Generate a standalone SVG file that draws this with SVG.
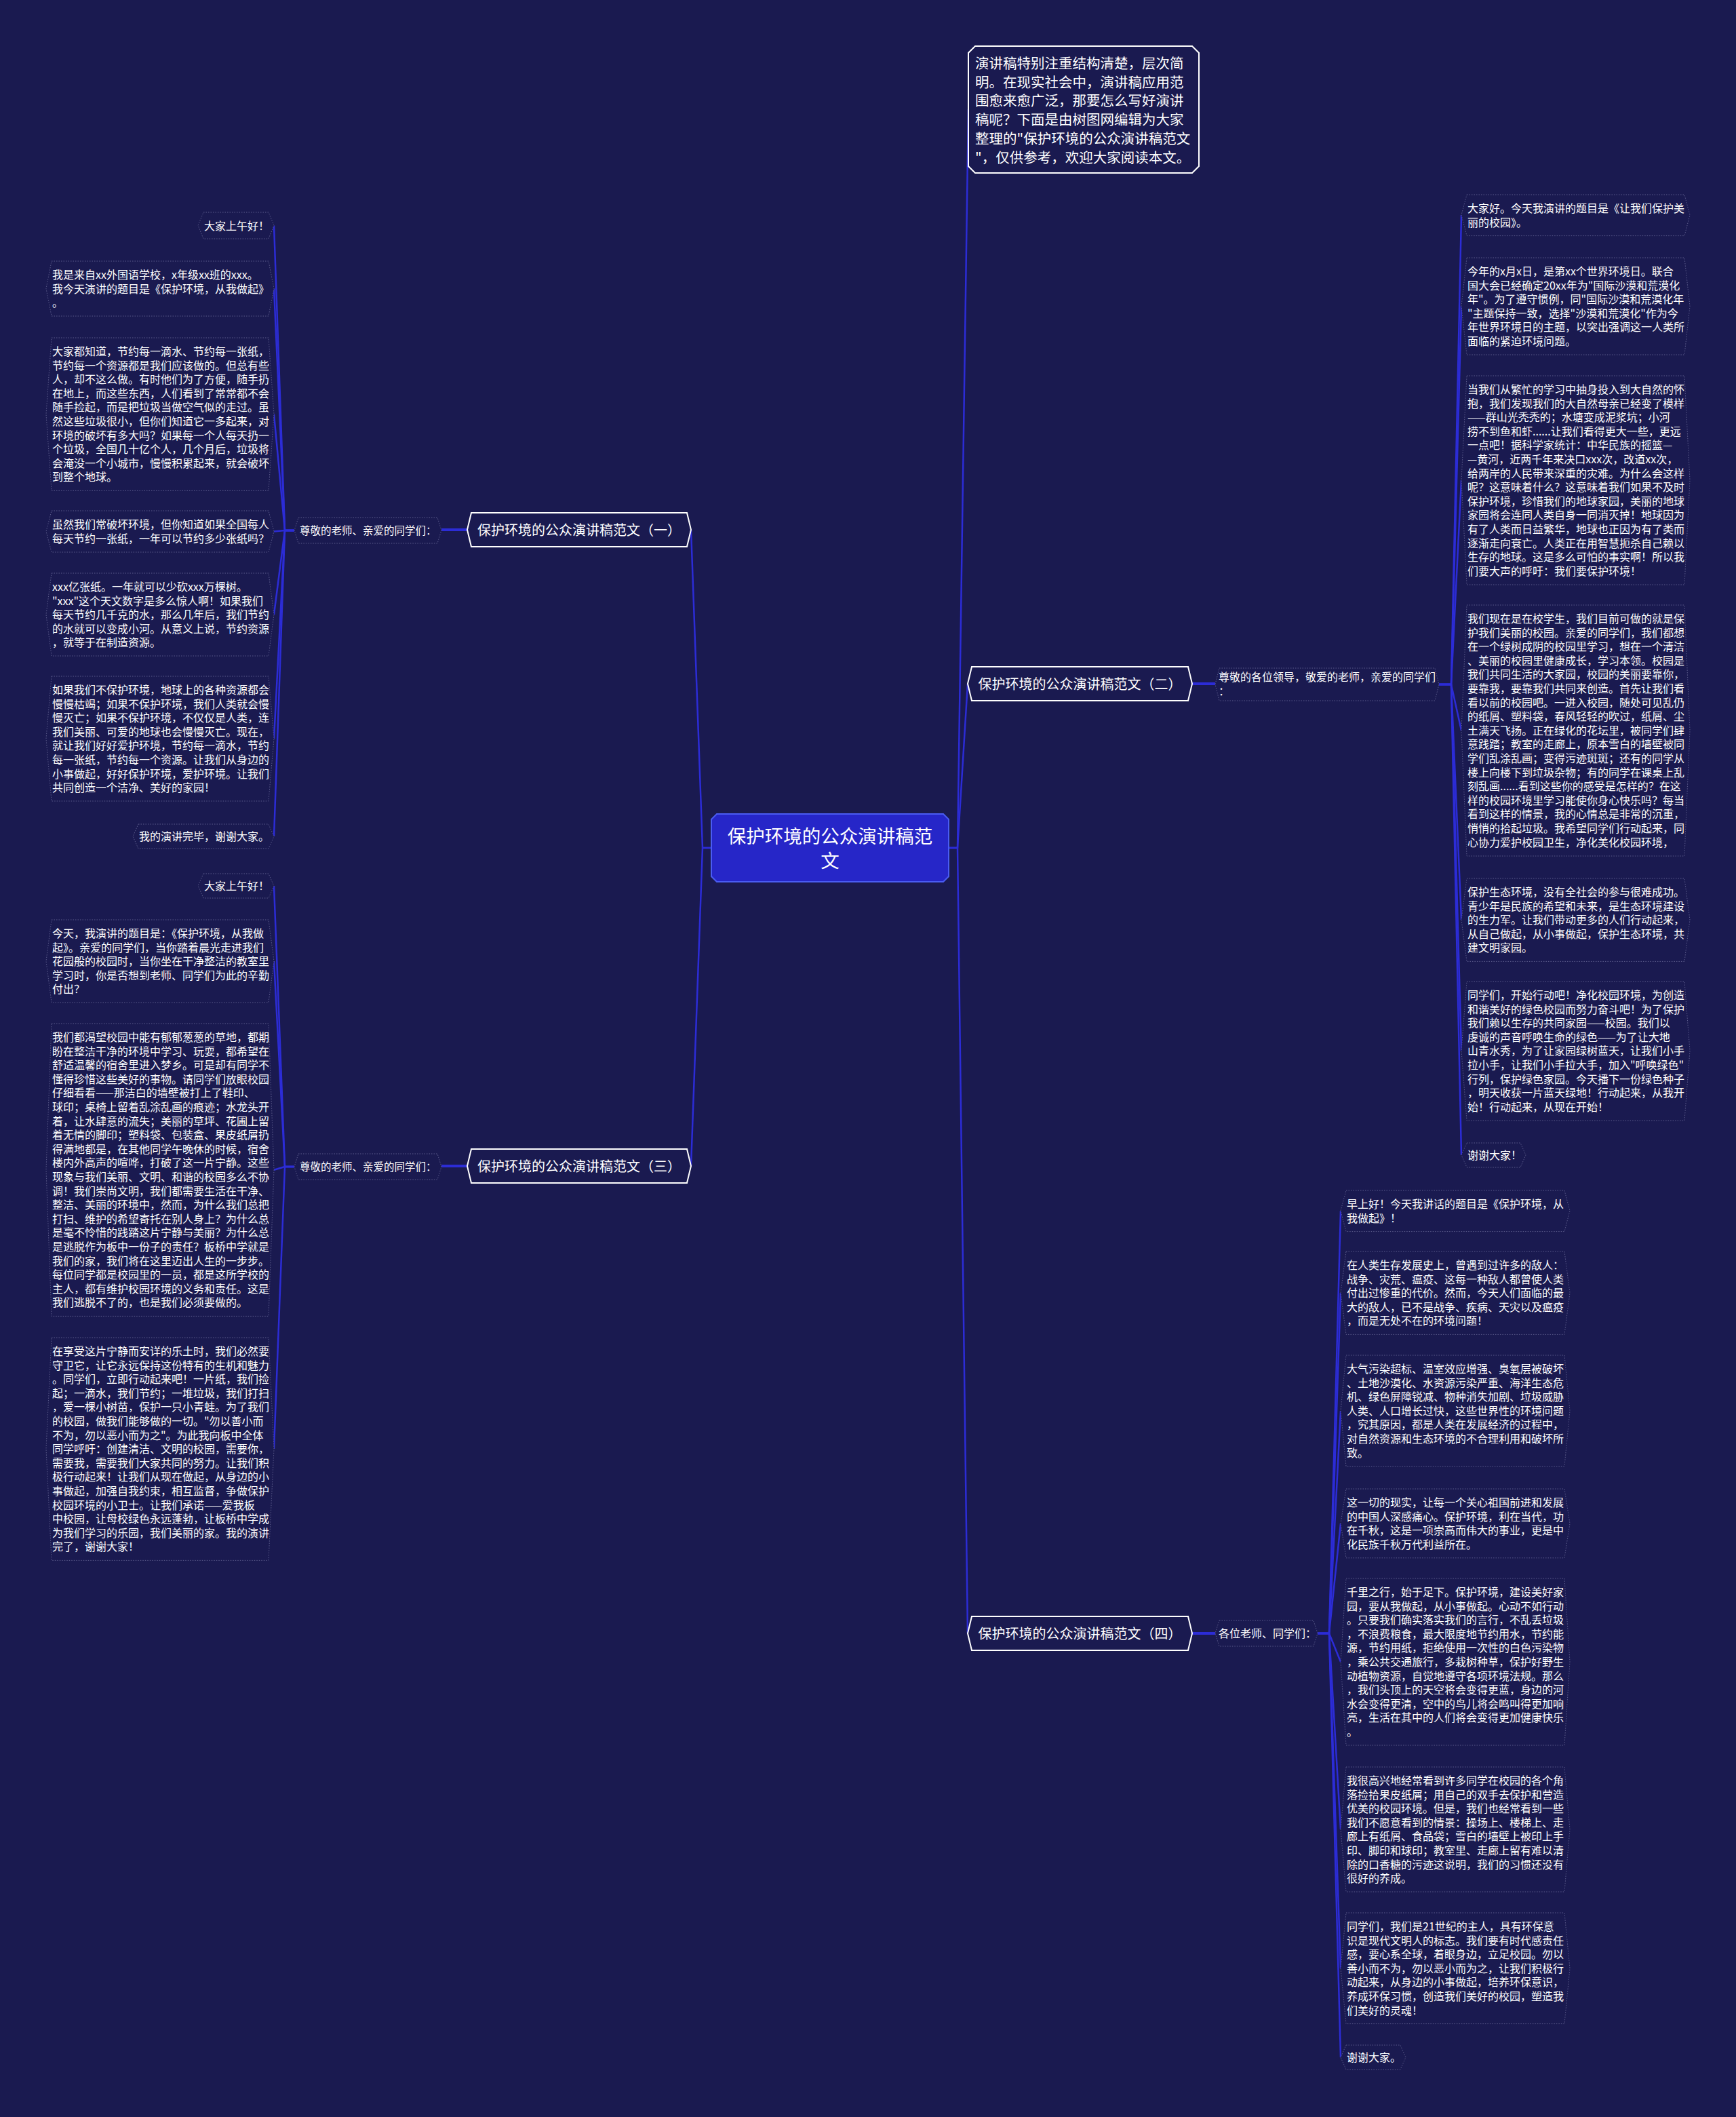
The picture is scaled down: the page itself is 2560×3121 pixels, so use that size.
<svg xmlns="http://www.w3.org/2000/svg" width="2560" height="3121" viewBox="0 0 2560 3121">
<style>
.bg{fill:#1a1a50}
.ln{fill:none;stroke:#2c2cd6;stroke-width:2.5;stroke-linejoin:round}
.stub{fill:none;stroke:#2c2cd6;stroke-width:4}
.leaf{fill:#1a1a50;stroke:#5a5a8a;stroke-width:1;stroke-dasharray:1.5 2}
.br{fill:#1a1a50;stroke:#ffffff;stroke-width:2}
.ctr{fill:#2626c8;stroke:#4a5cf2;stroke-width:2}
.t{font-family:"Noto Sans CJK SC","Noto Sans",sans-serif;fill:#ffffff}
.s{font-size:16px}
.lb{font-size:15.5px}
.bt{font-size:20px}
.it{font-size:20.5px}
.ct{font-size:27.5px}
</style>
<rect class="bg" x="0" y="0" width="2560" height="3121"/>
<g id="connectors">
<path class="ln" d="M1049,1250 H1036 L1019,781"/>
<path class="ln" d="M1049,1250 H1036 L1019,1719"/>
<path class="ln" d="M1399,1250 H1412 L1428,161"/>
<path class="ln" d="M1399,1250 H1412 L1427,1008"/>
<path class="ln" d="M1399,1250 H1412 L1427,2408"/>
<path class="stub" d="M689,781 H651"/>
<path class="stub" d="M689,1719 H651"/>
<path class="stub" d="M1758,1008 H1792"/>
<path class="stub" d="M1758,2408 H1792"/>
<path class="ln" d="M434,782 H420 L404,332.5"/>
<path class="ln" d="M434,782 H420 L404,425.5"/>
<path class="ln" d="M434,782 H420 L404,610.7"/>
<path class="ln" d="M434,782 H420 L404,783.5"/>
<path class="ln" d="M434,782 H420 L404,906"/>
<path class="ln" d="M434,782 H420 L404,1089"/>
<path class="ln" d="M434,782 H420 L404,1233"/>
<path class="ln" d="M434,1720 H420 L404,1306"/>
<path class="ln" d="M434,1720 H420 L404,1417"/>
<path class="ln" d="M434,1720 H420 L404,1724.7"/>
<path class="ln" d="M434,1720 H420 L404,2136"/>
<path class="ln" d="M2122,1009 H2140 L2155,317"/>
<path class="ln" d="M2122,1009 H2140 L2155,451.5"/>
<path class="ln" d="M2122,1009 H2140 L2155,708"/>
<path class="ln" d="M2122,1009 H2140 L2155,1077"/>
<path class="ln" d="M2122,1009 H2140 L2155,1356"/>
<path class="ln" d="M2122,1009 H2140 L2155,1549"/>
<path class="ln" d="M2122,1009 H2140 L2155,1703"/>
<path class="ln" d="M1943,2408 H1960 L1977,1785"/>
<path class="ln" d="M1943,2408 H1960 L1977,1906"/>
<path class="ln" d="M1943,2408 H1960 L1977,2080"/>
<path class="ln" d="M1943,2408 H1960 L1977,2246"/>
<path class="ln" d="M1943,2408 H1960 L1977,2450"/>
<path class="ln" d="M1943,2408 H1960 L1977,2697"/>
<path class="ln" d="M1943,2408 H1960 L1977,2902"/>
<path class="ln" d="M1943,2408 H1960 L1977,3033"/>
</g>

<g id="center">
<path class="ctr" d="M1057,1200 H1391 L1399,1208 V1292 L1391,1300 H1057 L1049,1292 V1208 Z"/>
<text class="t ct" text-anchor="middle"><tspan x="1224" y="1242.5">保护环境的公众演讲稿范</tspan><tspan x="1224" y="1278.5">文</tspan></text>
</g>

<g id="intro">
<path class="br" stroke-width="1.5" d="M1438,68 H1758 L1768,78 V245 L1758,255 H1438 L1428,245 V78 Z"/>
<text class="t it"><tspan x="1438" y="101">演讲稿特别注重结构清楚，层次简</tspan><tspan x="1438" y="128.7">明。在现实社会中，演讲稿应用范</tspan><tspan x="1438" y="156.4">围愈来愈广泛，那要怎么写好演讲</tspan><tspan x="1438" y="184.1">稿呢？下面是由树图网编辑为大家</tspan><tspan x="1438" y="211.8">整理的"保护环境的公众演讲稿范文</tspan><tspan x="1438" y="239.5">"，仅供参考，欢迎大家阅读本文。</tspan></text>
</g>

<g id="branch1">
<path class="br" d="M695,756 H1013 L1019,781 L1013,806 H695 L689,781 Z"/>
<text class="t bt" x="854" y="788.6" text-anchor="middle">保护环境的公众演讲稿范文（一）</text>
</g>
<g id="branch2">
<path class="br" d="M1433,983 H1752 L1758,1008 L1752,1033 H1433 L1427,1008 Z"/>
<text class="t bt" x="1592.5" y="1015.6" text-anchor="middle">保护环境的公众演讲稿范文（二）</text>
</g>
<g id="branch3">
<path class="br" d="M695,1694 H1013 L1019,1719 L1013,1744 H695 L689,1719 Z"/>
<text class="t bt" x="854" y="1726.6" text-anchor="middle">保护环境的公众演讲稿范文（三）</text>
</g>
<g id="branch4">
<path class="br" d="M1433,2383 H1752 L1758,2408 L1752,2433 H1433 L1427,2408 Z"/>
<text class="t bt" x="1592.5" y="2415.6" text-anchor="middle">保护环境的公众演讲稿范文（四）</text>
</g>

<g id="label1">
<path class="leaf" d="M440,763 H645 L651,782 L645,801 H440 L434,782 Z"/>
<text class="t lb" x="442" y="788">尊敬的老师、亲爱的同学们：</text>
</g>
<g id="label3">
<path class="leaf" d="M440,1701 H645 L651,1720 L645,1739 H440 L434,1720 Z"/>
<text class="t lb" x="442" y="1726">尊敬的老师、亲爱的同学们：</text>
</g>
<g id="label2">
<path class="leaf" d="M1798,985 H2116 L2122,1009 L2116,1033 H1798 L1792,1009 Z"/>
<text class="t s"><tspan x="1797" y="1004">尊敬的各位领导，敬爱的老师，亲爱的同学们</tspan><tspan x="1797" y="1025">：</tspan></text>
</g>
<g id="label4">
<path class="leaf" d="M1798,2389 H1937 L1943,2408 L1937,2427 H1798 L1792,2408 Z"/>
<text class="t s" x="1797" y="2414">各位老师、同学们：</text>
</g>

<g id="a1">
<path class="leaf" d="M300,313 H396 L404,332.5 L396,352 H300 L292,332.5 Z"/>
<text class="t s" x="301" y="339">大家上午好！</text>
</g>
<g id="a2">
<path class="leaf" d="M76,385 H396 L404,425.5 L396,466 H76 L68,425.5 Z"/>
<text class="t s"><tspan x="77" y="411">我是来自xx外国语学校，x年级xx班的xxx。</tspan><tspan x="77" dy="20.6">我今天演讲的题目是《保护环境，从我做起》</tspan><tspan x="77" dy="20.6">。</tspan></text>
</g>
<g id="a3">
<path class="leaf" d="M76,498 H396 L404,610.7 L396,723.4 H76 L68,610.7 Z"/>
<text class="t s"><tspan x="77" y="524">大家都知道，节约每一滴水、节约每一张纸，</tspan><tspan x="77" dy="20.6">节约每一个资源都是我们应该做的。但总有些</tspan><tspan x="77" dy="20.6">人，却不这么做。有时他们为了方便，随手扔</tspan><tspan x="77" dy="20.6">在地上，而这些东西，人们看到了常常都不会</tspan><tspan x="77" dy="20.6">随手捡起，而是把垃圾当做空气似的走过。虽</tspan><tspan x="77" dy="20.6">然这些垃圾很小，但你们知道它一多起来，对</tspan><tspan x="77" dy="20.6">环境的破坏有多大吗？如果每一个人每天扔一</tspan><tspan x="77" dy="20.6">个垃圾，全国几十亿个人，几个月后，垃圾将</tspan><tspan x="77" dy="20.6">会淹没一个小城市，慢慢积累起来，就会破坏</tspan><tspan x="77" dy="20.6">到整个地球。</tspan></text>
</g>
<g id="a4">
<path class="leaf" d="M76,753 H396 L404,783.5 L396,814 H76 L68,783.5 Z"/>
<text class="t s"><tspan x="77" y="779">虽然我们常破坏环境，但你知道如果全国每人</tspan><tspan x="77" dy="20.6">每天节约一张纸，一年可以节约多少张纸吗？</tspan></text>
</g>
<g id="a5">
<path class="leaf" d="M76,845 H396 L404,906 L396,967 H76 L68,906 Z"/>
<text class="t s"><tspan x="77" y="871">xxx亿张纸。一年就可以少砍xxx万棵树。</tspan><tspan x="77" dy="20.6">"xxx"这个天文数字是多么惊人啊！如果我们</tspan><tspan x="77" dy="20.6">每天节约几千克的水，那么几年后，我们节约</tspan><tspan x="77" dy="20.6">的水就可以变成小河。从意义上说，节约资源</tspan><tspan x="77" dy="20.6">，就等于在制造资源。</tspan></text>
</g>
<g id="a6">
<path class="leaf" d="M76,997 H396 L404,1089 L396,1181 H76 L68,1089 Z"/>
<text class="t s"><tspan x="77" y="1023">如果我们不保护环境，地球上的各种资源都会</tspan><tspan x="77" dy="20.6">慢慢枯竭；如果不保护环境，我们人类就会慢</tspan><tspan x="77" dy="20.6">慢灭亡；如果不保护环境，不仅仅是人类，连</tspan><tspan x="77" dy="20.6">我们美丽、可爱的地球也会慢慢灭亡。现在，</tspan><tspan x="77" dy="20.6">就让我们好好爱护环境，节约每一滴水，节约</tspan><tspan x="77" dy="20.6">每一张纸，节约每一个资源。让我们从身边的</tspan><tspan x="77" dy="20.6">小事做起，好好保护环境，爱护环境。让我们</tspan><tspan x="77" dy="20.6">共同创造一个洁净、美好的家园！</tspan></text>
</g>
<g id="a7">
<path class="leaf" d="M204,1215 H396 L404,1233 L396,1251 H204 L196,1233 Z"/>
<text class="t s" x="205" y="1239">我的演讲完毕，谢谢大家。</text>
</g>

<g id="b1">
<path class="leaf" d="M300,1288 H396 L404,1306 L396,1324 H300 L292,1306 Z"/>
<text class="t s" x="301" y="1312">大家上午好！</text>
</g>
<g id="b2">
<path class="leaf" d="M76,1356 H396 L404,1417 L396,1478 H76 L68,1417 Z"/>
<text class="t s"><tspan x="77" y="1382">今天，我演讲的题目是：《保护环境，从我做</tspan><tspan x="77" dy="20.6">起》。亲爱的同学们，当你踏着晨光走进我们</tspan><tspan x="77" dy="20.6">花园般的校园时，当你坐在干净整洁的教室里</tspan><tspan x="77" dy="20.6">学习时，你是否想到老师、同学们为此的辛勤</tspan><tspan x="77" dy="20.6">付出？</tspan></text>
</g>
<g id="b3">
<path class="leaf" d="M76,1509 H396 L404,1724.7 L396,1940.4 H76 L68,1724.7 Z"/>
<text class="t s"><tspan x="77" y="1535">我们都渴望校园中能有郁郁葱葱的草地，都期</tspan><tspan x="77" dy="20.6">盼在整洁干净的环境中学习、玩耍，都希望在</tspan><tspan x="77" dy="20.6">舒适温馨的宿舍里进入梦乡。可是却有同学不</tspan><tspan x="77" dy="20.6">懂得珍惜这些美好的事物。请同学们放眼校园</tspan><tspan x="77" dy="20.6">仔细看看——那洁白的墙壁被打上了鞋印、</tspan><tspan x="77" dy="20.6">球印；桌椅上留着乱涂乱画的痕迹；水龙头开</tspan><tspan x="77" dy="20.6">着，让水肆意的流失；美丽的草坪、花圃上留</tspan><tspan x="77" dy="20.6">着无情的脚印；塑料袋、包装盒、果皮纸屑扔</tspan><tspan x="77" dy="20.6">得满地都是，在其他同学午晚休的时候，宿舍</tspan><tspan x="77" dy="20.6">楼内外高声的喧哗，打破了这一片宁静。这些</tspan><tspan x="77" dy="20.6">现象与我们美丽、文明、和谐的校园多么不协</tspan><tspan x="77" dy="20.6">调！我们崇尚文明，我们都需要生活在干净、</tspan><tspan x="77" dy="20.6">整洁、美丽的环境中，然而，为什么我们总把</tspan><tspan x="77" dy="20.6">打扫、维护的希望寄托在别人身上？为什么总</tspan><tspan x="77" dy="20.6">是毫不怜惜的践踏这片宁静与美丽？为什么总</tspan><tspan x="77" dy="20.6">是逃脱作为板中一份子的责任？板桥中学就是</tspan><tspan x="77" dy="20.6">我们的家，我们将在这里迈出人生的一步步。</tspan><tspan x="77" dy="20.6">每位同学都是校园里的一员，都是这所学校的</tspan><tspan x="77" dy="20.6">主人，都有维护校园环境的义务和责任。这是</tspan><tspan x="77" dy="20.6">我们逃脱不了的，也是我们必须要做的。</tspan></text>
</g>
<g id="b4">
<path class="leaf" d="M76,1972 H396 L404,2136 L396,2300.4 H76 L68,2136 Z"/>
<text class="t s"><tspan x="77" y="1998">在享受这片宁静而安详的乐土时，我们必然要</tspan><tspan x="77" dy="20.6">守卫它，让它永远保持这份特有的生机和魅力</tspan><tspan x="77" dy="20.6">。同学们，立即行动起来吧！一片纸，我们捡</tspan><tspan x="77" dy="20.6">起；一滴水，我们节约；一堆垃圾，我们打扫</tspan><tspan x="77" dy="20.6">，爱一棵小树苗，保护一只小青蛙。为了我们</tspan><tspan x="77" dy="20.6">的校园，做我们能够做的一切。"勿以善小而</tspan><tspan x="77" dy="20.6">不为，勿以恶小而为之"。为此我向板中全体</tspan><tspan x="77" dy="20.6">同学呼吁：创建清洁、文明的校园，需要你，</tspan><tspan x="77" dy="20.6">需要我，需要我们大家共同的努力。让我们积</tspan><tspan x="77" dy="20.6">极行动起来！让我们从现在做起，从身边的小</tspan><tspan x="77" dy="20.6">事做起，加强自我约束，相互监督，争做保护</tspan><tspan x="77" dy="20.6">校园环境的小卫士。让我们承诺——爱我板</tspan><tspan x="77" dy="20.6">中校园，让母校绿色永远蓬勃，让板桥中学成</tspan><tspan x="77" dy="20.6">为我们学习的乐园，我们美丽的家。我的演讲</tspan><tspan x="77" dy="20.6">完了，谢谢大家！</tspan></text>
</g>

<g id="c1">
<path class="leaf" d="M2163,287 H2484 L2492,317 L2484,347.6 H2163 L2155,317 Z"/>
<text class="t s"><tspan x="2164" y="313">大家好。今天我演讲的题目是《让我们保护美</tspan><tspan x="2164" dy="20.6">丽的校园》。</tspan></text>
</g>
<g id="c2">
<path class="leaf" d="M2163,380 H2484 L2492,451.5 L2484,523 H2163 L2155,451.5 Z"/>
<text class="t s"><tspan x="2164" y="406">今年的x月x日，是第xx个世界环境日。联合</tspan><tspan x="2164" dy="20.6">国大会已经确定20xx年为"国际沙漠和荒漠化</tspan><tspan x="2164" dy="20.6">年"。为了遵守惯例，同"国际沙漠和荒漠化年</tspan><tspan x="2164" dy="20.6">"主题保持一致，选择"沙漠和荒漠化"作为今</tspan><tspan x="2164" dy="20.6">年世界环境日的主题，以突出强调这一人类所</tspan><tspan x="2164" dy="20.6">面临的紧迫环境问题。</tspan></text>
</g>
<g id="c3">
<path class="leaf" d="M2163,554 H2484 L2492,708 L2484,862 H2163 L2155,708 Z"/>
<text class="t s"><tspan x="2164" y="580">当我们从繁忙的学习中抽身投入到大自然的怀</tspan><tspan x="2164" dy="20.6">抱，我们发现我们的大自然母亲已经变了模样</tspan><tspan x="2164" dy="20.6">——群山光秃秃的；水塘变成泥浆坑；小河</tspan><tspan x="2164" dy="20.6">捞不到鱼和虾......让我们看得更大一些，更远</tspan><tspan x="2164" dy="20.6">一点吧！据科学家统计：中华民族的摇篮—</tspan><tspan x="2164" dy="20.6">—黄河，近两千年来决口xxx次，改道xx次，</tspan><tspan x="2164" dy="20.6">给两岸的人民带来深重的灾难。为什么会这样</tspan><tspan x="2164" dy="20.6">呢？这意味着什么？这意味着我们如果不及时</tspan><tspan x="2164" dy="20.6">保护环境，珍惜我们的地球家园，美丽的地球</tspan><tspan x="2164" dy="20.6">家园将会连同人类自身一同消灭掉！地球因为</tspan><tspan x="2164" dy="20.6">有了人类而日益繁华，地球也正因为有了类而</tspan><tspan x="2164" dy="20.6">逐渐走向衰亡。人类正在用智慧扼杀自己赖以</tspan><tspan x="2164" dy="20.6">生存的地球。这是多么可怕的事实啊！所以我</tspan><tspan x="2164" dy="20.6">们要大声的呼吁：我们要保护环境！</tspan></text>
</g>
<g id="c4">
<path class="leaf" d="M2163,892 H2484 L2492,1077 L2484,1262 H2163 L2155,1077 Z"/>
<text class="t s"><tspan x="2164" y="918">我们现在是在校学生，我们目前可做的就是保</tspan><tspan x="2164" dy="20.6">护我们美丽的校园。亲爱的同学们，我们都想</tspan><tspan x="2164" dy="20.6">在一个绿树成阴的校园里学习，想在一个清洁</tspan><tspan x="2164" dy="20.6">、美丽的校园里健康成长，学习本领。校园是</tspan><tspan x="2164" dy="20.6">我们共同生活的大家园，校园的美丽要靠你，</tspan><tspan x="2164" dy="20.6">要靠我，要靠我们共同来创造。首先让我们看</tspan><tspan x="2164" dy="20.6">看以前的校园吧。一进入校园，随处可见乱仍</tspan><tspan x="2164" dy="20.6">的纸屑、塑料袋，春风轻轻的吹过，纸屑、尘</tspan><tspan x="2164" dy="20.6">土满天飞扬。正在绿化的花坛里，被同学们肆</tspan><tspan x="2164" dy="20.6">意践踏；教室的走廊上，原本雪白的墙壁被同</tspan><tspan x="2164" dy="20.6">学们乱涂乱画；变得污迹斑斑；还有的同学从</tspan><tspan x="2164" dy="20.6">楼上向楼下到垃圾杂物；有的同学在课桌上乱</tspan><tspan x="2164" dy="20.6">刻乱画......看到这些你的感受是怎样的？在这</tspan><tspan x="2164" dy="20.6">样的校园环境里学习能使你身心快乐吗？每当</tspan><tspan x="2164" dy="20.6">看到这样的情景，我的心情总是非常的沉重，</tspan><tspan x="2164" dy="20.6">悄悄的拾起垃圾。我希望同学们行动起来，同</tspan><tspan x="2164" dy="20.6">心协力爱护校园卫生，净化美化校园环境，</tspan></text>
</g>
<g id="c5">
<path class="leaf" d="M2163,1295 H2484 L2492,1356 L2484,1417.4 H2163 L2155,1356 Z"/>
<text class="t s"><tspan x="2164" y="1321">保护生态环境，没有全社会的参与很难成功。</tspan><tspan x="2164" dy="20.6">青少年是民族的希望和未来，是生态环境建设</tspan><tspan x="2164" dy="20.6">的生力军。让我们带动更多的人们行动起来，</tspan><tspan x="2164" dy="20.6">从自己做起，从小事做起，保护生态环境，共</tspan><tspan x="2164" dy="20.6">建文明家园。</tspan></text>
</g>
<g id="c6">
<path class="leaf" d="M2163,1447 H2484 L2492,1549 L2484,1652 H2163 L2155,1549 Z"/>
<text class="t s"><tspan x="2164" y="1473">同学们，开始行动吧！净化校园环境，为创造</tspan><tspan x="2164" dy="20.6">和谐美好的绿色校园而努力奋斗吧！为了保护</tspan><tspan x="2164" dy="20.6">我们赖以生存的共同家园——校园。我们以</tspan><tspan x="2164" dy="20.6">虔诚的声音呼唤生命的绿色——为了让大地</tspan><tspan x="2164" dy="20.6">山青水秀，为了让家园绿树蓝天，让我们小手</tspan><tspan x="2164" dy="20.6">拉小手，让我们小手拉大手，加入"呼唤绿色"</tspan><tspan x="2164" dy="20.6">行列，保护绿色家园。今天播下一份绿色种子</tspan><tspan x="2164" dy="20.6">，明天收获一片蓝天绿地！行动起来，从我开</tspan><tspan x="2164" dy="20.6">始！行动起来，从现在开始！</tspan></text>
</g>
<g id="c7">
<path class="leaf" d="M2163,1685 H2242 L2250,1703 L2242,1721 H2163 L2155,1703 Z"/>
<text class="t s" x="2164" y="1709">谢谢大家！</text>
</g>

<g id="d1">
<path class="leaf" d="M1985,1755 H2307 L2315,1785 L2307,1815.6 H1985 L1977,1785 Z"/>
<text class="t s"><tspan x="1986" y="1781">早上好！今天我讲话的题目是《保护环境，从</tspan><tspan x="1986" dy="20.6">我做起》！</tspan></text>
</g>
<g id="d2">
<path class="leaf" d="M1985,1845 H2307 L2315,1906 L2307,1967.4 H1985 L1977,1906 Z"/>
<text class="t s"><tspan x="1986" y="1871">在人类生存发展史上，曾遇到过许多的敌人：</tspan><tspan x="1986" dy="20.6">战争、灾荒、瘟疫、这每一种敌人都曾使人类</tspan><tspan x="1986" dy="20.6">付出过惨重的代价。然而，今天人们面临的最</tspan><tspan x="1986" dy="20.6">大的敌人，已不是战争、疾病、天灾以及瘟疫</tspan><tspan x="1986" dy="20.6">，而是无处不在的环境问题！</tspan></text>
</g>
<g id="d3">
<path class="leaf" d="M1985,1998 H2307 L2315,2080 L2307,2161.6 H1985 L1977,2080 Z"/>
<text class="t s"><tspan x="1986" y="2024">大气污染超标、温室效应增强、臭氧层被破坏</tspan><tspan x="1986" dy="20.6">、土地沙漠化、水资源污染严重、海洋生态危</tspan><tspan x="1986" dy="20.6">机、绿色屏障锐减、物种消失加剧、垃圾威胁</tspan><tspan x="1986" dy="20.6">人类、人口增长过快，这些世界性的环境问题</tspan><tspan x="1986" dy="20.6">，究其原因，都是人类在发展经济的过程中，</tspan><tspan x="1986" dy="20.6">对自然资源和生态环境的不合理利用和破坏所</tspan><tspan x="1986" dy="20.6">致。</tspan></text>
</g>
<g id="d4">
<path class="leaf" d="M1985,2195 H2307 L2315,2246 L2307,2296.8 H1985 L1977,2246 Z"/>
<text class="t s"><tspan x="1986" y="2221">这一切的现实，让每一个关心祖国前进和发展</tspan><tspan x="1986" dy="20.6">的中国人深感痛心。保护环境，利在当代，功</tspan><tspan x="1986" dy="20.6">在千秋，这是一项崇高而伟大的事业，更是中</tspan><tspan x="1986" dy="20.6">化民族千秋万代利益所在。</tspan></text>
</g>
<g id="d5">
<path class="leaf" d="M1985,2327 H2307 L2315,2450 L2307,2573 H1985 L1977,2450 Z"/>
<text class="t s"><tspan x="1986" y="2353">千里之行，始于足下。保护环境，建设美好家</tspan><tspan x="1986" dy="20.6">园，要从我做起，从小事做起。心动不如行动</tspan><tspan x="1986" dy="20.6">。只要我们确实落实我们的言行，不乱丢垃圾</tspan><tspan x="1986" dy="20.6">，不浪费粮食，最大限度地节约用水，节约能</tspan><tspan x="1986" dy="20.6">源，节约用纸，拒绝使用一次性的白色污染物</tspan><tspan x="1986" dy="20.6">，乘公共交通旅行，多栽树种草，保护好野生</tspan><tspan x="1986" dy="20.6">动植物资源，自觉地遵守各项环境法规。那么</tspan><tspan x="1986" dy="20.6">，我们头顶上的天空将会变得更蓝，身边的河</tspan><tspan x="1986" dy="20.6">水会变得更清，空中的鸟儿将会鸣叫得更加响</tspan><tspan x="1986" dy="20.6">亮，生活在其中的人们将会变得更加健康快乐</tspan><tspan x="1986" dy="20.6">。</tspan></text>
</g>
<g id="d6">
<path class="leaf" d="M1985,2605 H2307 L2315,2697 L2307,2789 H1985 L1977,2697 Z"/>
<text class="t s"><tspan x="1986" y="2631">我很高兴地经常看到许多同学在校园的各个角</tspan><tspan x="1986" dy="20.6">落捡拾果皮纸屑；用自己的双手去保护和营造</tspan><tspan x="1986" dy="20.6">优美的校园环境。但是，我们也经常看到一些</tspan><tspan x="1986" dy="20.6">我们不愿意看到的情景：操场上、楼梯上、走</tspan><tspan x="1986" dy="20.6">廊上有纸屑、食品袋；雪白的墙壁上被印上手</tspan><tspan x="1986" dy="20.6">印、脚印和球印；教室里、走廊上留有难以清</tspan><tspan x="1986" dy="20.6">除的口香糖的污迹这说明，我们的习惯还没有</tspan><tspan x="1986" dy="20.6">很好的养成。</tspan></text>
</g>
<g id="d7">
<path class="leaf" d="M1985,2820 H2307 L2315,2902 L2307,2983.6 H1985 L1977,2902 Z"/>
<text class="t s"><tspan x="1986" y="2846">同学们，我们是21世纪的主人，具有环保意</tspan><tspan x="1986" dy="20.6">识是现代文明人的标志。我们要有时代感责任</tspan><tspan x="1986" dy="20.6">感，要心系全球，着眼身边，立足校园。勿以</tspan><tspan x="1986" dy="20.6">善小而不为，勿以恶小而为之，让我们积极行</tspan><tspan x="1986" dy="20.6">动起来，从身边的小事做起，培养环保意识，</tspan><tspan x="1986" dy="20.6">养成环保习惯，创造我们美好的校园，塑造我</tspan><tspan x="1986" dy="20.6">们美好的灵魂！</tspan></text>
</g>
<g id="d8">
<path class="leaf" d="M1985,3015 H2065 L2073,3033 L2065,3051 H1985 L1977,3033 Z"/>
<text class="t s" x="1986" y="3039">谢谢大家。</text>
</g>
</svg>
